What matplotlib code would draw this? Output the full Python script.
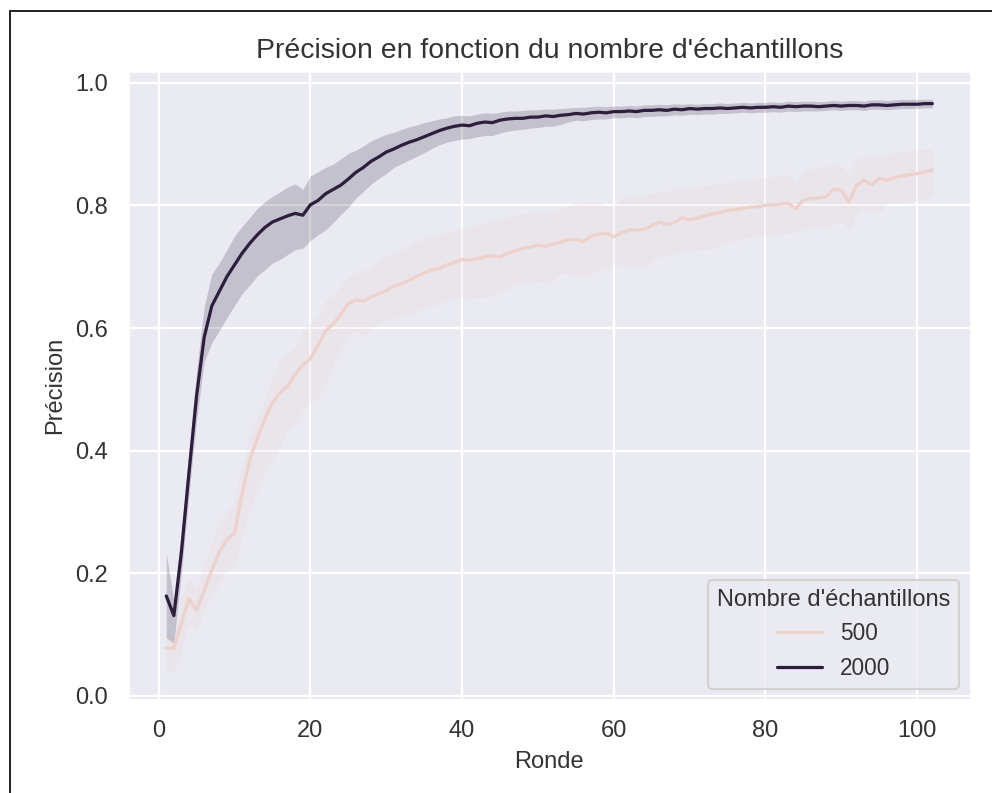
import numpy as np
import matplotlib
matplotlib.use("Agg")
import matplotlib.pyplot as plt
from matplotlib.lines import Line2D
import seaborn as sns

rondes = np.arange(1, 103)

# moyenne et intervalle de confiance, 2000 échantillons
prec_2000 = [
    0.163, 0.131, 0.235, 0.365, 0.490, 0.585, 0.636, 0.660, 0.684, 0.703,
    0.722, 0.738, 0.752, 0.764, 0.773, 0.778, 0.783, 0.787, 0.784, 0.801,
    0.808, 0.819, 0.826, 0.833, 0.843, 0.854, 0.862, 0.872, 0.879, 0.887,
    0.892, 0.898, 0.903, 0.907, 0.912, 0.917, 0.922, 0.926, 0.929, 0.931,
    0.930, 0.934, 0.936, 0.935, 0.939, 0.941, 0.942, 0.942, 0.944, 0.944,
    0.946, 0.945, 0.947, 0.948, 0.950, 0.949, 0.951, 0.952, 0.951, 0.953,
    0.953, 0.954, 0.953, 0.955, 0.955, 0.956, 0.955, 0.957, 0.956, 0.958,
    0.957, 0.958, 0.958, 0.959, 0.958, 0.959, 0.960, 0.959, 0.960, 0.960,
    0.961, 0.960, 0.962, 0.961, 0.962, 0.962, 0.961, 0.962, 0.963, 0.962,
    0.963, 0.963, 0.962, 0.964, 0.964, 0.963, 0.964, 0.965, 0.965, 0.965,
    0.966, 0.966,
]
haut_2000 = [
    0.233, 0.155, 0.270, 0.400, 0.530, 0.635, 0.688, 0.706, 0.728, 0.750,
    0.766, 0.780, 0.795, 0.806, 0.815, 0.822, 0.830, 0.835, 0.826, 0.848,
    0.855, 0.862, 0.867, 0.876, 0.885, 0.890, 0.897, 0.905, 0.911, 0.916,
    0.919, 0.924, 0.928, 0.931, 0.935, 0.938, 0.941, 0.943, 0.946, 0.947,
    0.946, 0.949, 0.951, 0.950, 0.952, 0.954, 0.954, 0.955, 0.956, 0.956,
    0.957, 0.957, 0.958, 0.959, 0.960, 0.960, 0.961, 0.962, 0.961, 0.962,
    0.962, 0.963, 0.962, 0.964, 0.964, 0.965, 0.964, 0.966, 0.965, 0.966,
    0.965, 0.966, 0.966, 0.967, 0.966, 0.967, 0.968, 0.967, 0.968, 0.968,
    0.969, 0.968, 0.970, 0.969, 0.970, 0.970, 0.969, 0.970, 0.971, 0.970,
    0.971, 0.971, 0.970, 0.972, 0.972, 0.971, 0.972, 0.973, 0.973, 0.973,
    0.973, 0.973,
]
bas_2000 = [
    0.095, 0.086, 0.200, 0.330, 0.450, 0.545, 0.576, 0.596, 0.617, 0.637,
    0.656, 0.670, 0.685, 0.695, 0.706, 0.712, 0.720, 0.728, 0.730, 0.743,
    0.752, 0.760, 0.772, 0.785, 0.797, 0.812, 0.823, 0.835, 0.844, 0.852,
    0.862, 0.868, 0.874, 0.880, 0.886, 0.893, 0.899, 0.903, 0.906, 0.908,
    0.909, 0.912, 0.914, 0.914, 0.918, 0.921, 0.923, 0.924, 0.926, 0.927,
    0.929, 0.929, 0.932, 0.936, 0.939, 0.938, 0.940, 0.941, 0.941, 0.943,
    0.943, 0.944, 0.943, 0.945, 0.945, 0.946, 0.946, 0.948, 0.947, 0.949,
    0.948, 0.949, 0.949, 0.950, 0.950, 0.951, 0.952, 0.951, 0.952, 0.952,
    0.953, 0.952, 0.954, 0.953, 0.954, 0.954, 0.954, 0.955, 0.956, 0.955,
    0.956, 0.956, 0.955, 0.957, 0.957, 0.956, 0.957, 0.958, 0.958, 0.958,
    0.959, 0.959,
]

# moyenne et intervalle de confiance, 500 échantillons
prec_500 = [
    0.078, 0.078, 0.120, 0.158, 0.140, 0.172, 0.205, 0.235, 0.255, 0.265,
    0.330, 0.385, 0.420, 0.452, 0.478, 0.495, 0.505, 0.525, 0.540, 0.550,
    0.572, 0.595, 0.607, 0.622, 0.640, 0.646, 0.644, 0.651, 0.656, 0.661,
    0.668, 0.672, 0.678, 0.684, 0.690, 0.695, 0.697, 0.703, 0.707, 0.712,
    0.710, 0.713, 0.716, 0.718, 0.716, 0.722, 0.726, 0.730, 0.732, 0.735,
    0.733, 0.737, 0.740, 0.744, 0.745, 0.741, 0.750, 0.753, 0.755, 0.749,
    0.755, 0.760, 0.760, 0.761, 0.767, 0.773, 0.769, 0.772, 0.780, 0.777,
    0.779, 0.783, 0.786, 0.788, 0.792, 0.793, 0.795, 0.797, 0.798, 0.800,
    0.801, 0.802, 0.803, 0.795, 0.809, 0.811, 0.812, 0.814, 0.826, 0.825,
    0.805, 0.833, 0.841, 0.834, 0.844, 0.841, 0.846, 0.848, 0.850, 0.852,
    0.855, 0.858,
]
haut_500 = [
    0.105, 0.088, 0.163, 0.192, 0.175, 0.215, 0.250, 0.282, 0.300, 0.320,
    0.375, 0.425, 0.455, 0.485, 0.520, 0.550, 0.558, 0.570, 0.598, 0.610,
    0.618, 0.645, 0.652, 0.668, 0.683, 0.690, 0.694, 0.700, 0.708, 0.716,
    0.722, 0.727, 0.733, 0.740, 0.746, 0.751, 0.753, 0.757, 0.760, 0.765,
    0.765, 0.768, 0.772, 0.775, 0.778, 0.781, 0.784, 0.786, 0.788, 0.790,
    0.789, 0.791, 0.795, 0.800, 0.805, 0.804, 0.806, 0.805, 0.800, 0.798,
    0.812, 0.815, 0.816, 0.818, 0.820, 0.822, 0.823, 0.826, 0.829, 0.830,
    0.831, 0.832, 0.834, 0.835, 0.836, 0.839, 0.841, 0.843, 0.846, 0.846,
    0.847, 0.848, 0.849, 0.838, 0.857, 0.859, 0.861, 0.863, 0.868, 0.866,
    0.849, 0.876, 0.878, 0.880, 0.882, 0.884, 0.886, 0.887, 0.889, 0.890,
    0.892, 0.893,
]
bas_500 = [
    0.040, 0.040, 0.070, 0.116, 0.105, 0.140, 0.163, 0.185, 0.204, 0.209,
    0.260, 0.305, 0.337, 0.365, 0.385, 0.405, 0.435, 0.442, 0.465, 0.480,
    0.484, 0.510, 0.540, 0.565, 0.590, 0.596, 0.583, 0.598, 0.606, 0.612,
    0.616, 0.618, 0.622, 0.627, 0.632, 0.636, 0.640, 0.645, 0.649, 0.650,
    0.648, 0.650, 0.650, 0.655, 0.657, 0.664, 0.671, 0.673, 0.675, 0.676,
    0.674, 0.678, 0.690, 0.688, 0.684, 0.683, 0.688, 0.693, 0.698, 0.705,
    0.702, 0.700, 0.699, 0.699, 0.708, 0.716, 0.718, 0.721, 0.725, 0.727,
    0.728, 0.728, 0.729, 0.735, 0.740, 0.744, 0.746, 0.748, 0.750, 0.750,
    0.751, 0.753, 0.755, 0.756, 0.760, 0.763, 0.765, 0.762, 0.770, 0.775,
    0.759, 0.786, 0.793, 0.790, 0.787, 0.803, 0.804, 0.804, 0.805, 0.808,
    0.811, 0.814,
]

tailles = [500, 2000]

sns.set_theme(style="darkgrid")
plt.rcParams["font.family"] = ["Liberation Sans", "DejaVu Sans"]
plt.rcParams["text.color"] = "#333333"
plt.rcParams["axes.labelcolor"] = "#333333"
plt.rcParams["xtick.color"] = "#333333"
plt.rcParams["ytick.color"] = "#333333"

cmap = sns.color_palette("ch:", as_cmap=True)
couleurs = {500: cmap(0.0), 2000: cmap(1.0)}

fig = plt.figure(figsize=(992 / 155, 793 / 155), dpi=155)
ax = fig.add_axes([0.129, 0.1173, 0.8495, 0.7935])

series = {
    500: (prec_500, bas_500, haut_500),
    2000: (prec_2000, bas_2000, haut_2000),
}
for n in tailles:
    moy, bas, haut = series[n]
    ax.fill_between(rondes, bas, haut, color=couleurs[n], alpha=0.2, linewidth=0)
    ax.plot(rondes, moy, color=couleurs[n], linewidth=1.5, label=str(n))

ax.set_title("Précision en fonction du nombre d'échantillons", fontsize=13.2)
ax.set_xlabel("Ronde", fontsize=11)
ax.set_ylabel("Précision", fontsize=11)
ax.tick_params(labelsize=11)
ax.legend(title="Nombre d'échantillons", loc="lower right",
          fontsize=10.5, title_fontsize=11)

# cadre gauche et haut
fig.add_artist(Line2D([9.5 / 992, 9.5 / 992], [0, 1 - 10.5 / 793],
                      transform=fig.transFigure, color="#222222", linewidth=0.9))
fig.add_artist(Line2D([9.5 / 992, 1], [1 - 10.5 / 793, 1 - 10.5 / 793],
                      transform=fig.transFigure, color="#222222", linewidth=0.9))

fig.savefig("out.png", dpi=155)
